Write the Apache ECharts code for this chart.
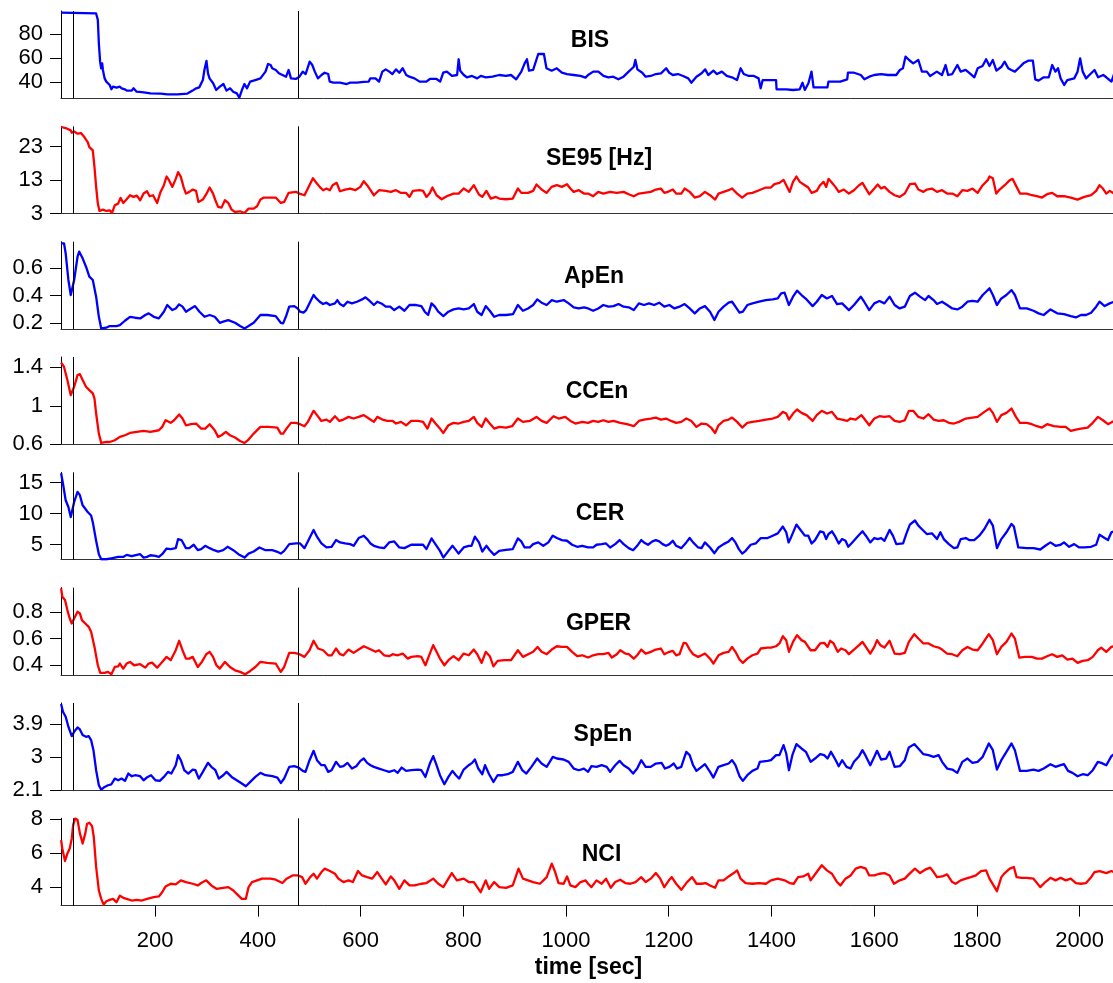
<!DOCTYPE html>
<html>
<head>
<meta charset="utf-8">
<script src="https://cdn.jsdelivr.net/npm/echarts@6/dist/echarts.min.js"></script>
<style>
html,body{margin:0;padding:0;background:#fff;}
#chart{width:1113px;height:983px;}
</style>
</head>
<body>
<div id="chart"></div>
<script>
// ---------- data (time [sec], value) ----------
const panelTitles = ['BIS', 'SE95 [Hz]', 'ApEn', 'CCEn', 'CER', 'GPER', 'SpEn', 'NCI'];
const xTickValues = [200, 400, 600, 800, 1000, 1200, 1400, 1600, 1800, 2000];
const eventTimes = [40, 478];
const xRange = [16.8, 2065];

const yTicksBIS = [40, 60, 80];
const yTicksSE95 = [3, 13, 23];
const yTicksApEn = [0.2, 0.4, 0.6];
const yTicksCCEn = [0.6, 1, 1.4];
const yTicksCER = [5, 10, 15];
const yTicksGPER = [0.4, 0.6, 0.8];
const yTicksSpEn = [2.1, 3, 3.9];
const yTicksNCI = [4, 6, 8];

const yRangeBIS = [26.7, 99.4];
const yRangeSE95 = [3, 29.1];
const yRangeApEn = [0.157, 0.795];
const yRangeCCEn = [0.6, 1.508];
const yRangeCER = [2.54, 16.69];
const yRangeGPER = [0.327, 0.984];
const yRangeSpEn = [2.1, 4.485];
const yRangeNCI = [2.91, 8.06];

const bisData = [[17,98],[85,97.5],[88.5,92],[90.5,72.5],[93,57],[95,51.7],[97,55.8],[98.4,50.3],[101.7,43.3],[105,40.6],[111.6,37.8],[115,34.2],[118,36.4],[125,35.6],[131,36.4],[135,35],[141,34.2],[145,33.1],[154.5,33.1],[158,35],[164,32.2],[178,31.7],[191,30.8],[211,30.6],[224,30],[243.5,30],[263,30.6],[273,33.1],[280,35],[286,35.8],[293,41.9],[296,50.3],[300,57.8],[303,47.5],[306,43.3],[313,39.2],[319,33.6],[326,36.4],[333,38.6],[339,33.1],[346,35],[352,32.2],[359,30.8],[364,27.2],[369,33.6],[374,38.6],[379,35],[385,40.6],[395,41.9],[405,43.3],[415,48.9],[420,55.3],[425,54.4],[428,51.7],[435,50.3],[441,47.5],[448,46.1],[455,44.7],[460,50.3],[464.5,43.3],[474,42.8],[481,44.7],[487.5,48.9],[493,46.9],[501,57.2],[506,54.4],[511,48.9],[517,43.3],[524,46.1],[530,48],[537,46.9],[540,40.6],[547,39.7],[560,39.7],[573,38.6],[580,39.7],[593,39.7],[606,40.3],[616,40.6],[619,43.3],[629,43.3],[636,40.6],[642.5,48.9],[649,50.8],[656,48.9],[662,46.9],[669,50.8],[675.5,48],[682,51.7],[689,46.1],[695,44.7],[705,43.3],[715,40.6],[728,40.6],[735,42.8],[748,42.8],[755,40.6],[761,48],[768,48.9],[778,45.3],[788,46.1],[791,59.2],[794,49.7],[801,46.1],[807,44.2],[817,45.3],[827,43.3],[834,45.3],[844,44.2],[857,44.7],[870,46.1],[883,45.3],[893,46.1],[903,42.5],[913,48.9],[919.5,55.8],[924,59.2],[928,49.7],[936,50.3],[946,63.6],[957,63.6],[962,51.7],[972,49.7],[982,51.7],[992,48],[1002,46.9],[1015,46.1],[1028,45.3],[1038,43.9],[1043,46.1],[1053,48.9],[1063,48.9],[1073,45.3],[1082.5,44.2],[1092,44.7],[1102,42.5],[1112,44.7],[1122,48.9],[1132,53],[1135,58.6],[1139,50.8],[1148.5,48],[1155,44.7],[1165,45.3],[1175,46.9],[1185,47.5],[1195,51.7],[1201,48],[1208,46.1],[1218,46.9],[1228,45.3],[1238,43.3],[1244,39.7],[1254,44.7],[1264,47.5],[1271,50.8],[1277,46.1],[1287,49.7],[1294,46.9],[1303.5,48.9],[1313,45.3],[1323,44.2],[1333,41.9],[1340,51.7],[1346,46.9],[1356,45.3],[1366,45.3],[1375,43.3],[1379,35],[1383,41.9],[1409,41.9],[1410,34.2],[1429,34.2],[1442,33.6],[1455,34.2],[1460.5,39.7],[1465,33.6],[1472,39.2],[1478,48.9],[1482,35.8],[1509,35.8],[1511,40.6],[1534,40.6],[1547.5,42.5],[1549,48],[1561,48],[1574,46.1],[1581,42.5],[1590.5,44.7],[1600,46.1],[1613.5,46.9],[1627,46.1],[1643,46.1],[1650,50.3],[1656,51.7],[1661,61.4],[1668,58.6],[1676,55.8],[1686,58.6],[1693,48.9],[1702.5,48.9],[1709,45.3],[1722,48.9],[1732,46.1],[1739,54.4],[1744,46.1],[1752,46.9],[1762,54.4],[1768.5,48.9],[1778,50.3],[1788,46.9],[1795,44.2],[1801.5,51.7],[1811,53.6],[1818,59.2],[1824.5,53.6],[1831,58.6],[1838,49.7],[1848,53],[1854,57.2],[1861,51.7],[1867,50.3],[1874,48.9],[1884,53],[1890.5,55.8],[1900,58],[1909,58],[1913.6,42.5],[1920,41.4],[1930,44.2],[1940,44.2],[1946.6,54.4],[1953,48.9],[1958,51.7],[1963,43.3],[1970,37.8],[1976,41.9],[1989.5,43.3],[1996,48.9],[2001,60],[2006,48.9],[2012.6,43.3],[2019,46.1],[2029,50.3],[2036,44.2],[2046,46.1],[2052,44.2],[2062,40.6],[2067,46.9]];

const se95Data = [[17,28.9],[25.9,28.6],[35.8,27.9],[37.8,27.2],[42.4,27.6],[49,26.9],[55.6,27.1],[62.2,25.9],[68.8,24.4],[72,22.9],[75.4,23.4],[78.7,21.9],[82,16.9],[85.2,11],[88.5,6],[91.8,3.8],[98.4,4.2],[105,3.8],[111.6,4],[116.2,3.2],[121.5,5.5],[128.1,6],[132.7,7.7],[138,6.2],[144.6,7.3],[151.2,8.5],[157.8,8],[164.4,8.4],[171,7],[177.6,9],[184.2,9.7],[189.4,8.2],[196,8.5],[204,6.2],[210.6,9.5],[217.1,11.5],[222.4,14.1],[227,13],[233.6,11],[240.2,13.4],[244.8,15.4],[250.1,14],[255.4,11],[260,9],[266.6,9.5],[273.2,10.2],[279.8,9.8],[284.4,6.5],[293,7.2],[299.6,8.8],[306.2,10.8],[312.8,9],[317.4,7],[322.7,5],[329.3,4.8],[335.9,7],[342.5,6.2],[349,4.2],[355.6,3.5],[365.5,3.7],[374.1,3.2],[382,4.5],[392,4.5],[398.5,5.2],[405.1,7.2],[411.7,7.8],[434.8,7.8],[444.7,6.2],[451.3,6.5],[459.8,9.2],[474.4,9.5],[481,9],[490.8,8.5],[497.4,10.5],[507.3,13.6],[513.9,12.2],[520.5,11],[527.1,10],[533.7,10.5],[540.3,10],[545.6,11.5],[553.5,12.2],[560,9.7],[570,10.2],[580,10.5],[589.8,10],[599.7,11],[606.3,12.7],[612.8,11.5],[619.4,10],[626,8.5],[636,10],[649,9.8],[659,9.5],[669,10],[678.8,9.2],[688.7,9.2],[695.3,8],[702,9.8],[715,10],[721.7,9.8],[728.3,8],[735,9.2],[740,10.8],[748,8.5],[758,7.3],[767.8,8.2],[781,9],[791,9],[800.8,10.5],[810.7,9.5],[820.6,11.5],[830.5,8.7],[837,8],[845,9.8],[853.6,7.5],[863.5,8],[870,7.5],[883,7.3],[896.4,7.5],[906.3,10.5],[913,9.2],[926,9.2],[936,9.8],[942.6,11.7],[952.5,10.2],[962,9.2],[972,11],[982,11.5],[992,11],[1002,11.8],[1008.5,10.5],[1015,9.5],[1025,10],[1035,9],[1043,9],[1052.9,8.2],[1062.8,9.5],[1072.7,9],[1085.9,9.5],[1099,9.2],[1112.2,9.5],[1122,8.8],[1132,8.2],[1142,9],[1151.8,9.2],[1165,9.5],[1175,10.2],[1184.8,10.5],[1191.4,9.2],[1198,9.5],[1208,10.2],[1214.5,9],[1224.4,9],[1231,10.5],[1240.8,9.5],[1250.7,7.8],[1260.6,8.2],[1270.5,9.5],[1280.4,8.5],[1290.3,7.2],[1297,9],[1306.8,9.5],[1316.7,10],[1323.3,10.5],[1333.2,9],[1343,7.8],[1353,9],[1363,9.2],[1376,10],[1389,10.8],[1399,10.8],[1405.7,11.8],[1415.6,12.2],[1423.5,13.1],[1428.8,11.5],[1435.4,9.5],[1442,12.5],[1448.6,14.1],[1455.2,12.5],[1465,11.5],[1471.7,10.8],[1478.3,9.2],[1488.2,9.8],[1494.8,11.5],[1501.4,12.5],[1506.6,11],[1511.2,13.4],[1517.8,12.2],[1524.4,11],[1531,9.5],[1541,10.2],[1550.8,9],[1560.7,10],[1570.6,11.5],[1577.2,12.2],[1583.8,10.5],[1590.4,8.8],[1600.3,10.5],[1606.9,11.7],[1613.5,10.5],[1620,11],[1630,9.5],[1639.8,8.5],[1649.7,8],[1659.6,9],[1669.5,11.8],[1679.4,12],[1686,10.2],[1695.9,9.5],[1702.5,10.2],[1712.4,10.5],[1722.3,9.5],[1732.2,10],[1742,9],[1752,9],[1762,8.2],[1771.7,10],[1781.6,9.8],[1791.5,10.5],[1801.4,9.2],[1811.3,11.5],[1821.2,13],[1824.5,14.1],[1831,13.6],[1837.7,9],[1844.3,10.2],[1854.2,11.5],[1864,13],[1869.3,13.4],[1877.3,11],[1883.9,9],[1897,9],[1907,8.5],[1916.8,8.2],[1926.7,7.8],[1936.6,8.8],[1946.5,9.2],[1956.4,8.2],[1969.6,8.2],[1982.8,7.8],[1996,7.2],[2009.2,8],[2022.4,8.5],[2032.2,9.8],[2038.8,11.5],[2045.4,10.5],[2052,9],[2058.6,9.8],[2067,9]];

const apenData = [[17,0.783],[22.6,0.783],[25.9,0.71],[31.2,0.515],[35.8,0.405],[37.8,0.398],[42.4,0.515],[49,0.685],[52.3,0.722],[58.9,0.673],[65.5,0.612],[72,0.539],[78.7,0.515],[85.2,0.393],[90.5,0.246],[95.1,0.161],[105,0.166],[111.6,0.178],[124.8,0.178],[131.4,0.185],[141.3,0.217],[151.2,0.246],[161,0.239],[171,0.234],[180.9,0.259],[187.5,0.271],[197.4,0.246],[207.3,0.234],[217.1,0.283],[223.7,0.332],[233.6,0.295],[240.2,0.307],[246.8,0.337],[253.4,0.32],[260,0.283],[269.9,0.307],[277.8,0.324],[286.4,0.283],[296.3,0.246],[306.2,0.259],[316.1,0.246],[326,0.202],[332.6,0.21],[342.5,0.222],[355.6,0.202],[365.5,0.178],[374.1,0.161],[382,0.178],[392,0.202],[405.1,0.259],[418.3,0.259],[434.8,0.251],[444.7,0.202],[449.3,0.198],[454.6,0.246],[461.1,0.32],[471,0.324],[477.6,0.307],[482.3,0.283],[488.9,0.276],[494.1,0.295],[502,0.356],[508.6,0.405],[513.9,0.38],[520.5,0.356],[527,0.339],[533.7,0.349],[540.3,0.332],[550.2,0.344],[554.8,0.368],[560,0.339],[566.7,0.324],[574.6,0.356],[583.2,0.344],[593.1,0.356],[603,0.373],[609.6,0.388],[616.1,0.368],[626,0.332],[632.6,0.356],[642.5,0.339],[649.1,0.32],[657.7,0.32],[665.6,0.295],[675.5,0.32],[685.4,0.29],[695.3,0.332],[708.5,0.332],[718.4,0.324],[725,0.283],[731.6,0.259],[738.2,0.344],[744.7,0.32],[751.3,0.283],[761.2,0.251],[771.1,0.283],[781,0.3],[791,0.307],[800.8,0.3],[810.7,0.307],[820.6,0.339],[827.2,0.283],[835.7,0.259],[843.7,0.324],[851.6,0.29],[860.1,0.246],[870,0.259],[883.2,0.259],[897,0.266],[906.3,0.332],[916.2,0.29],[926,0.307],[936,0.332],[944,0.373],[952.5,0.349],[962.4,0.332],[972.3,0.368],[982,0.356],[995.4,0.368],[1005.3,0.344],[1015,0.315],[1025,0.307],[1035,0.315],[1043,0.307],[1052.9,0.29],[1062.8,0.307],[1072.7,0.332],[1082.6,0.32],[1092.5,0.324],[1102.3,0.339],[1112.2,0.32],[1122.1,0.315],[1132,0.295],[1141.9,0.344],[1151.8,0.332],[1161.7,0.344],[1171.6,0.332],[1181.5,0.349],[1191.4,0.32],[1201.3,0.332],[1211.2,0.307],[1221,0.32],[1231,0.339],[1240.8,0.307],[1250.7,0.271],[1260.6,0.307],[1270.5,0.324],[1280.4,0.283],[1289,0.222],[1297,0.283],[1306.8,0.32],[1316.7,0.349],[1323.3,0.356],[1329.9,0.32],[1337.8,0.276],[1344.4,0.283],[1353,0.332],[1363,0.344],[1376,0.356],[1389,0.368],[1402.4,0.373],[1412.3,0.38],[1418.9,0.417],[1425.5,0.422],[1434,0.332],[1442,0.393],[1449.9,0.437],[1458.5,0.405],[1468.4,0.373],[1480.2,0.324],[1488.2,0.356],[1498,0.405],[1508,0.38],[1517.8,0.398],[1527.7,0.339],[1537.6,0.344],[1550.8,0.295],[1560.7,0.332],[1573.9,0.393],[1580.5,0.356],[1590.4,0.295],[1600.3,0.344],[1610.2,0.361],[1620,0.344],[1630,0.393],[1639.8,0.332],[1649.7,0.307],[1659.6,0.32],[1669.5,0.398],[1679.4,0.422],[1689.3,0.393],[1699.2,0.368],[1705.8,0.398],[1715.7,0.368],[1722.3,0.339],[1732.2,0.356],[1742,0.332],[1752,0.307],[1761.9,0.3],[1771.7,0.32],[1781.6,0.356],[1791.5,0.363],[1801.4,0.356],[1811.3,0.405],[1817.9,0.429],[1824.5,0.454],[1831.1,0.405],[1839,0.332],[1847.6,0.38],[1857.5,0.405],[1867.4,0.441],[1874,0.405],[1883.9,0.307],[1897,0.307],[1910.2,0.29],[1920.1,0.271],[1930,0.259],[1943.2,0.3],[1956.4,0.271],[1969.6,0.266],[1982.8,0.251],[1992.7,0.241],[2002.6,0.259],[2012.5,0.259],[2022.4,0.276],[2032.2,0.32],[2038.8,0.356],[2048.7,0.324],[2058.6,0.344],[2067,0.356]];

const ccenData = [[17,1.449],[22.6,1.407],[29.2,1.268],[35.8,1.111],[37.8,1.101],[42.4,1.198],[49,1.32],[53.6,1.33],[58.9,1.268],[65.5,1.198],[72,1.163],[78.7,1.129],[82,1.076],[85.2,0.92],[90.5,0.711],[95.1,0.614],[105,0.624],[111.6,0.624],[121.5,0.642],[131.4,0.677],[141.3,0.694],[151.2,0.718],[164.4,0.729],[177.6,0.739],[190.8,0.729],[207.3,0.746],[213.8,0.781],[220.4,0.85],[230.3,0.823],[237,0.85],[246.8,0.91],[253.4,0.868],[260,0.798],[269.9,0.809],[279.8,0.816],[289.7,0.763],[297.6,0.763],[306.2,0.809],[316.1,0.746],[322.7,0.677],[329.3,0.694],[337.8,0.729],[345.7,0.694],[355.6,0.67],[365.5,0.635],[374.1,0.614],[382,0.649],[392,0.711],[405.1,0.781],[421.6,0.781],[438,0.774],[444.7,0.711],[449.3,0.711],[455.9,0.763],[464.5,0.823],[474.4,0.823],[482.3,0.809],[490.8,0.788],[497.4,0.833],[508.6,0.948],[515.2,0.903],[523.8,0.843],[533.7,0.857],[540.3,0.833],[550.2,0.892],[558.8,0.843],[566.7,0.857],[576.6,0.885],[586.5,0.868],[596.4,0.885],[606.3,0.903],[616.1,0.868],[626,0.833],[632.6,0.885],[642.5,0.857],[652.4,0.843],[662.3,0.843],[669,0.816],[678.8,0.833],[688.7,0.798],[698.6,0.843],[711.8,0.843],[721.7,0.833],[730.3,0.763],[738.2,0.868],[746,0.816],[754.6,0.763],[761.2,0.718],[771.1,0.798],[781,0.823],[790.9,0.816],[800.8,0.833],[810.7,0.843],[820.6,0.885],[827.2,0.823],[835.8,0.781],[843.7,0.868],[851.6,0.816],[860.2,0.763],[870,0.781],[883.2,0.774],[895.1,0.788],[906.3,0.868],[916.2,0.833],[929.4,0.843],[942.6,0.885],[952.5,0.843],[962.4,0.823],[975.6,0.892],[985.5,0.868],[998.6,0.885],[1008.5,0.843],[1018.4,0.816],[1031.6,0.833],[1043,0.823],[1052.9,0.843],[1062.8,0.833],[1072.7,0.85],[1082.6,0.833],[1092.5,0.843],[1105.6,0.823],[1118.8,0.809],[1132,0.788],[1141.9,0.843],[1151.8,0.857],[1165,0.868],[1174.9,0.878],[1184.8,0.857],[1194.7,0.868],[1204.6,0.843],[1214.5,0.823],[1224.4,0.833],[1234.3,0.868],[1244.1,0.843],[1254,0.781],[1263.9,0.816],[1273.8,0.809],[1282.4,0.774],[1290.3,0.718],[1296.9,0.798],[1306.8,0.843],[1316.7,0.857],[1323.3,0.878],[1333.2,0.833],[1343,0.774],[1353,0.823],[1362.9,0.833],[1376,0.843],[1389.2,0.857],[1402.4,0.868],[1412.3,0.885],[1422.2,0.937],[1428.8,0.92],[1434,0.857],[1442,0.92],[1449.9,0.962],[1458.5,0.927],[1468.4,0.903],[1480.2,0.843],[1488.2,0.903],[1498,0.948],[1508,0.92],[1517.8,0.937],[1527.7,0.868],[1537.6,0.857],[1547.5,0.843],[1554.1,0.868],[1564,0.857],[1575.2,0.903],[1580.5,0.868],[1590.4,0.798],[1600.3,0.868],[1610.2,0.892],[1620,0.885],[1630,0.892],[1639.8,0.843],[1649.7,0.833],[1659.6,0.85],[1667.5,0.948],[1676.1,0.948],[1686,0.885],[1695.9,0.868],[1705.8,0.913],[1715.7,0.857],[1725.6,0.843],[1735.5,0.85],[1745.4,0.823],[1755.3,0.816],[1765.2,0.833],[1778.3,0.868],[1791.5,0.878],[1801.4,0.885],[1814.6,0.937],[1824.5,0.972],[1831.1,0.927],[1839,0.833],[1847.6,0.903],[1857.5,0.927],[1867.4,0.972],[1876,0.885],[1883.9,0.823],[1897,0.823],[1907,0.809],[1916.8,0.788],[1926.7,0.774],[1936.6,0.809],[1949.8,0.788],[1963,0.781],[1972.9,0.781],[1982.8,0.739],[1992.7,0.753],[2002.6,0.763],[2015.7,0.774],[2025.6,0.823],[2035.5,0.885],[2045.4,0.85],[2055.3,0.809],[2067,0.843]];

const cerData = [[17,16.53],[20.6,14.89],[25.9,12.16],[31.2,11.07],[35.8,9.43],[37.8,9.7],[42.4,11.88],[49,13.52],[53.6,12.98],[58.9,11.34],[64.1,10.79],[68.8,10.25],[75.4,9.7],[78.7,8.61],[85.2,5.6],[90.5,3.42],[95.1,2.6],[105,2.6],[114.9,2.76],[121.5,2.87],[128.1,2.98],[138,2.98],[144.6,3.31],[154.5,3.09],[164.4,3.31],[171,3.42],[177.6,2.87],[184.2,2.98],[190.8,3.25],[200.7,3.14],[207.3,2.98],[213.8,3.42],[222.4,4.34],[230.3,4.24],[240.2,4.4],[244.8,5.87],[251.4,5.71],[260,4.4],[266.6,4.4],[275.2,4.95],[283.1,4.07],[289.7,4.24],[297.6,4.78],[306.2,4.4],[314.8,4.07],[322.7,3.85],[332.6,4.07],[341.1,4.62],[352.3,4.07],[362.2,3.42],[374.1,2.87],[382,3.52],[392,3.85],[403.1,4.51],[415,4.07],[428.2,4.07],[438.1,3.8],[444.7,3.52],[451.3,3.96],[461.2,5.05],[474.4,5.16],[482.3,5.16],[490.8,4.4],[500.7,6.04],[508.6,7.35],[515.2,6.26],[523.8,5.16],[533.7,4.51],[543.6,4.62],[552.2,5.71],[560.1,5.33],[570,5.16],[579.9,5.05],[586.5,4.78],[596.4,6.04],[606.3,6.42],[612.8,5.87],[619.4,5.16],[626,4.78],[636,4.51],[645.8,4.4],[655.7,5.33],[665.6,5.49],[675.5,4.51],[685.4,4.4],[698.6,4.95],[711.8,4.95],[721.7,4.95],[728.3,4.24],[738.2,5.98],[748,4.78],[754.6,3.96],[761.2,2.87],[771.1,3.96],[779,4.78],[784.3,4.24],[790.9,3.52],[800.8,4.51],[810.7,4.78],[816,4.78],[822.6,6.26],[830.5,5.33],[837.1,3.85],[845,4.78],[851.6,4.07],[860.2,3.31],[870,3.96],[883.2,4.13],[896.4,4.24],[906.3,5.98],[912.9,5.49],[919.5,4.51],[929.4,4.51],[936,5.05],[945.9,5.33],[955.8,4.78],[965.7,5.33],[974.2,6.42],[982.2,6.04],[992,5.71],[1002,5.6],[1011.9,4.95],[1021.8,4.62],[1031.6,4.78],[1043,4.51],[1052.9,4.51],[1059.5,4.95],[1069.4,5.05],[1077.9,5.16],[1085.9,4.51],[1095.8,5.05],[1104.3,5.71],[1112.2,5.05],[1122.1,4.4],[1130.7,4.07],[1138.6,4.78],[1146.5,5.71],[1151.8,5.33],[1159.7,4.95],[1168.3,5.49],[1174.9,5.71],[1181.5,5.49],[1188.1,5.05],[1194.7,4.78],[1201.3,5.05],[1207.9,5.6],[1214.5,4.78],[1224.4,4.4],[1234.2,5.33],[1240.8,6.04],[1247.4,5.33],[1257.3,4.51],[1263.9,4.4],[1270.5,5.33],[1280.4,4.51],[1289,3.58],[1296.9,4.51],[1306.8,5.05],[1316.7,5.49],[1323.3,6.04],[1329.9,5.33],[1336.5,4.24],[1343.1,3.52],[1349.7,3.96],[1359.6,4.95],[1369.4,5.16],[1379.3,6.04],[1392.5,6.04],[1402.4,6.42],[1412.3,6.8],[1422.2,7.9],[1428.8,6.97],[1433.4,5.33],[1438.7,6.26],[1448.6,8.22],[1455.2,7.51],[1465,6.42],[1471.7,6.42],[1478.3,5.16],[1484.9,5.71],[1494.8,7.13],[1501.4,6.97],[1506.6,5.87],[1511.2,6.69],[1517.8,7.13],[1524.4,6.26],[1531,5.16],[1537.6,5.87],[1544.2,5.6],[1549.5,4.62],[1557.4,5.33],[1567.3,6.26],[1577.2,7.13],[1583.8,6.42],[1592.4,5.33],[1600.3,6.04],[1606.9,5.87],[1613.5,6.04],[1620.1,5.6],[1630,7.35],[1636.5,6.42],[1643.1,5.05],[1656.3,5.16],[1662.9,6.8],[1669.5,8.22],[1679.4,8.88],[1686,8.06],[1692.6,7.51],[1702.5,6.69],[1712.4,6.8],[1722.3,5.87],[1728.9,6.97],[1735.5,5.87],[1745.4,5.05],[1755.3,4.4],[1761.9,4.51],[1768.5,5.87],[1778.4,6.04],[1785,5.71],[1794.8,5.71],[1804.7,6.42],[1814.6,7.51],[1824.5,8.99],[1831.1,8.06],[1839,4.4],[1847.6,5.87],[1857.5,6.97],[1867.4,8.33],[1872,7.9],[1880.6,4.51],[1897.1,4.4],[1910.2,4.4],[1923.4,4.18],[1933.3,4.78],[1943.2,5.33],[1953.1,4.78],[1963,4.95],[1969.6,5.33],[1979.5,4.62],[1989.4,5.05],[1999.3,4.51],[2009.2,4.51],[2022.4,4.62],[2032.2,4.95],[2038.8,6.58],[2048.7,6.04],[2055.3,5.71],[2061.9,6.97],[2067,7.13]];

const gperData = [[17,0.979],[19.3,0.916],[24.6,0.891],[29.2,0.815],[33.8,0.752],[37.8,0.714],[42.4,0.752],[49,0.803],[53.6,0.79],[57.5,0.74],[64.1,0.714],[70.7,0.689],[75.4,0.652],[82,0.538],[88.5,0.4],[93.2,0.342],[101.7,0.342],[108.3,0.35],[114.9,0.332],[121.5,0.387],[128.1,0.392],[131.4,0.413],[138,0.375],[144.6,0.413],[151.2,0.425],[159.1,0.4],[171,0.408],[180.9,0.382],[187.5,0.413],[194.1,0.42],[204,0.382],[213.8,0.425],[222.4,0.463],[230.3,0.438],[240.2,0.513],[246.8,0.584],[253.4,0.513],[260,0.45],[266.6,0.45],[273.2,0.463],[283.1,0.387],[291,0.425],[299.6,0.483],[306.2,0.501],[312.8,0.463],[319.4,0.4],[326,0.375],[335.9,0.425],[345.7,0.387],[355.6,0.362],[365.5,0.35],[375.4,0.332],[385.3,0.357],[395.2,0.387],[405.1,0.425],[418.3,0.418],[434.8,0.413],[444.7,0.35],[451.3,0.387],[461.2,0.493],[471,0.493],[481,0.483],[490.8,0.463],[500.7,0.513],[508.6,0.584],[517.2,0.526],[527.1,0.513],[537,0.475],[543.6,0.475],[552.2,0.526],[560.1,0.483],[566.7,0.475],[576.6,0.518],[586.5,0.493],[596.4,0.518],[606.3,0.543],[616.1,0.526],[629.3,0.501],[635.9,0.513],[645.8,0.475],[655.7,0.468],[662.3,0.483],[672.2,0.475],[682.1,0.488],[692,0.45],[698.6,0.463],[711.8,0.468],[718.4,0.463],[726.3,0.4],[734.9,0.488],[741.5,0.551],[748,0.501],[754.6,0.45],[763.2,0.4],[771.1,0.438],[781,0.468],[790.9,0.438],[800.8,0.488],[810.7,0.475],[820.6,0.518],[827.2,0.483],[835.8,0.418],[843.7,0.501],[851.6,0.468],[858.8,0.392],[866.8,0.433],[880,0.438],[893.1,0.438],[906.3,0.513],[916.2,0.463],[929.4,0.488],[936,0.501],[944.6,0.538],[952.5,0.501],[962.4,0.483],[972.3,0.518],[982.2,0.543],[992.1,0.538],[1002,0.538],[1011.9,0.501],[1021.7,0.468],[1031.6,0.475],[1043,0.458],[1052.9,0.475],[1062.8,0.483],[1072.7,0.483],[1082.6,0.493],[1089.2,0.458],[1099,0.483],[1105.6,0.513],[1115.5,0.488],[1122.1,0.483],[1132,0.45],[1138.6,0.475],[1146.5,0.518],[1155.1,0.488],[1165,0.501],[1174.9,0.518],[1184.8,0.526],[1191.4,0.483],[1201.3,0.501],[1207.9,0.508],[1214.5,0.475],[1221.1,0.483],[1229,0.569],[1234.2,0.564],[1240.8,0.518],[1247.4,0.483],[1257.3,0.463],[1263.9,0.475],[1270.5,0.488],[1280.4,0.45],[1287,0.413],[1296.9,0.475],[1306.8,0.493],[1316.7,0.501],[1323.3,0.538],[1329.9,0.501],[1337.8,0.443],[1344.4,0.418],[1353,0.45],[1362.9,0.475],[1372.8,0.488],[1379.3,0.526],[1392.5,0.533],[1399.1,0.533],[1409,0.543],[1415.6,0.564],[1422.2,0.619],[1428.8,0.589],[1434.1,0.501],[1442,0.576],[1449.9,0.626],[1458.5,0.589],[1465.1,0.576],[1476.3,0.513],[1484.9,0.513],[1494.8,0.564],[1502.7,0.569],[1509.3,0.538],[1514.5,0.584],[1521.1,0.564],[1529,0.501],[1535.6,0.526],[1544.2,0.513],[1550.8,0.483],[1560.7,0.518],[1570.6,0.551],[1577.2,0.576],[1583.8,0.538],[1592.4,0.488],[1600.3,0.538],[1605.6,0.589],[1612.1,0.551],[1620,0.533],[1630,0.584],[1639.8,0.488],[1649.7,0.483],[1659.6,0.493],[1667.5,0.576],[1678.1,0.634],[1686,0.601],[1695.9,0.564],[1705.8,0.564],[1715.7,0.543],[1725.6,0.533],[1732.2,0.518],[1742,0.488],[1752,0.483],[1761.9,0.468],[1771.7,0.513],[1781.6,0.538],[1791.5,0.518],[1801.4,0.513],[1811.3,0.564],[1823.2,0.634],[1831.1,0.589],[1839,0.483],[1847.6,0.538],[1857.5,0.576],[1867.4,0.639],[1874,0.601],[1882.5,0.458],[1893.7,0.463],[1906.9,0.463],[1916.8,0.45],[1926.7,0.45],[1936.6,0.468],[1946.5,0.483],[1956.4,0.463],[1966.3,0.475],[1976.2,0.443],[1986.1,0.45],[1996,0.418],[2005.9,0.433],[2015.8,0.438],[2025.6,0.463],[2035.5,0.513],[2042.1,0.533],[2052,0.501],[2061.9,0.538],[2067,0.543]];

const spenData = [[17,4.457],[20.6,4.247],[25.9,4.11],[31.2,3.836],[37.8,3.58],[42.4,3.699],[49,3.818],[53.6,3.763],[58.9,3.608],[65.5,3.562],[70.7,3.58],[75.4,3.471],[80,3.196],[85.2,2.648],[90.5,2.237],[95.1,2.118],[101.7,2.191],[108.3,2.237],[114.9,2.264],[121.5,2.42],[128.1,2.374],[134.7,2.42],[141.3,2.356],[147.9,2.557],[154.5,2.484],[161.1,2.511],[171,2.484],[177.6,2.374],[185.5,2.465],[192.1,2.511],[200.7,2.374],[209.2,2.356],[217.1,2.465],[225.1,2.603],[231.6,2.557],[240.2,2.785],[244.8,3.059],[250.1,2.922],[256.7,2.648],[264.6,2.557],[273.2,2.666],[278.5,2.648],[285.1,2.42],[293,2.603],[302.9,2.849],[309.5,2.74],[317.4,2.648],[324,2.42],[332.6,2.511],[339.2,2.603],[349,2.465],[359,2.374],[368.8,2.283],[376.7,2.21],[385.3,2.328],[395.2,2.465],[405.1,2.575],[415,2.511],[428.2,2.484],[438.1,2.447],[444.7,2.301],[451.3,2.42],[461.2,2.74],[471,2.758],[479.6,2.721],[487.5,2.63],[492.8,2.603],[500.7,2.922],[508.6,3.178],[515.2,2.922],[523.8,2.785],[530.4,2.785],[537,2.603],[543.6,2.648],[552.2,2.877],[560.1,2.74],[566.7,2.758],[574.6,2.849],[583.2,2.694],[591.7,2.758],[599.7,2.904],[606.3,2.968],[612.8,2.849],[619.4,2.785],[626,2.74],[635.9,2.694],[645.8,2.648],[655.7,2.603],[665.6,2.648],[672.2,2.575],[680.1,2.721],[688.7,2.63],[698.6,2.648],[711.8,2.666],[718.4,2.648],[726.3,2.465],[734.9,2.831],[741.5,3.032],[748,2.785],[754.6,2.511],[763.2,2.264],[771.1,2.465],[779,2.63],[785.6,2.511],[792.2,2.42],[800.8,2.666],[810.7,2.785],[817.3,2.849],[822.6,2.941],[829.2,2.694],[837.1,2.539],[842.4,2.785],[850.3,2.539],[858.8,2.328],[866.8,2.511],[876.7,2.511],[886.5,2.539],[896.4,2.603],[906.3,2.877],[914.9,2.648],[922.8,2.557],[932.7,2.74],[943.9,2.968],[952.5,2.831],[962.4,2.74],[974.3,3.014],[982.2,2.968],[995.3,2.941],[1005.2,2.877],[1015.1,2.694],[1025,2.648],[1034.9,2.694],[1043,2.603],[1049.6,2.758],[1059.5,2.74],[1069.4,2.785],[1079.3,2.74],[1085.9,2.603],[1095.8,2.785],[1104.3,2.904],[1112.2,2.785],[1122.1,2.694],[1130.7,2.557],[1138.6,2.694],[1146.5,2.922],[1155.1,2.74],[1165,2.74],[1174.9,2.831],[1186.1,2.849],[1192.7,2.694],[1201.3,2.74],[1209.8,2.831],[1216.4,2.694],[1224.4,2.74],[1234.2,3.151],[1240.8,3.059],[1247.4,2.785],[1254,2.63],[1263.9,2.74],[1270.5,2.813],[1280.4,2.603],[1287,2.447],[1296.9,2.74],[1306.8,2.785],[1316.7,2.831],[1323.3,2.922],[1329.9,2.785],[1337.8,2.484],[1344.4,2.356],[1353,2.511],[1362.9,2.63],[1372.8,2.694],[1377.4,2.877],[1392.5,2.904],[1399.1,2.922],[1409,3.059],[1415.6,3.059],[1423.5,3.333],[1428.8,3.105],[1434.1,2.648],[1440.7,3.059],[1448.6,3.361],[1458.5,3.242],[1467.1,3.151],[1476.3,2.877],[1484.9,2.968],[1494.8,3.087],[1502.7,3.059],[1509.3,2.968],[1515.9,3.151],[1524.4,2.941],[1531,2.758],[1537.6,2.922],[1546.2,2.74],[1554.1,2.694],[1560.7,2.877],[1570.6,3.032],[1577.2,3.196],[1583.8,3.032],[1592.4,2.785],[1600.3,3.014],[1605.6,3.178],[1613.5,2.941],[1623.4,2.968],[1630,3.151],[1639.8,2.74],[1649.7,2.758],[1659.6,2.922],[1667.5,3.27],[1678.1,3.361],[1686,3.242],[1695.9,3.087],[1705.8,3.059],[1715.7,3.014],[1725.6,3.059],[1732.2,2.877],[1742,2.694],[1752,2.666],[1761.9,2.575],[1771.7,2.877],[1781.6,2.968],[1791.5,2.849],[1801.4,2.877],[1811.3,3.014],[1823.2,3.379],[1831.1,3.196],[1839,2.666],[1847.6,2.922],[1857.5,3.151],[1867.4,3.379],[1874,3.196],[1883.9,2.63],[1897,2.63],[1910.2,2.666],[1920.1,2.63],[1930,2.694],[1943.2,2.813],[1953.1,2.74],[1963,2.785],[1969.6,2.813],[1977.5,2.63],[1986.1,2.575],[1996,2.484],[2005.9,2.539],[2015.8,2.511],[2025.6,2.648],[2035.5,2.877],[2042.1,2.849],[2052,2.785],[2061.9,3.032],[2067,3.087]];

const nciData = [[17,6.77],[19.3,6.28],[24.6,5.54],[29.2,5.98],[33.8,6.28],[37.8,6.87],[40.4,7.66],[44.4,8.06],[49,7.96],[53.6,7.17],[58.9,6.57],[64.1,7.17],[67.4,7.72],[72,7.8],[77.3,7.6],[80.6,6.97],[85.2,5.19],[90.5,3.8],[95.1,3.31],[99.8,2.97],[105,3.17],[111.6,3.25],[118.2,3.31],[124.8,3.11],[131.4,3.5],[138,3.37],[144.6,3.31],[154.5,3.21],[164.4,3.25],[174.3,3.21],[184.2,3.31],[197.4,3.41],[207.3,3.45],[213.8,3.7],[220.4,4.04],[230.3,4.2],[240.2,4.16],[250.1,4.4],[260,4.3],[273.2,4.2],[283.1,4.1],[289.7,4.24],[299.6,4.4],[309.5,4.1],[319.4,3.9],[332.6,3.96],[342.5,4],[352.3,3.8],[358.9,3.6],[368.8,3.31],[376.7,3.31],[382,4],[388.6,4.3],[398.5,4.4],[408.4,4.5],[424.9,4.5],[434.8,4.44],[448,4.24],[455.9,4.5],[467.7,4.69],[477.6,4.69],[486.2,4.59],[492.8,4.2],[502,4.59],[508.6,4.79],[515.2,4.5],[523.8,4.89],[530.4,5.09],[540.3,4.95],[550.2,4.79],[556.8,4.5],[566.7,4.3],[576.6,4.4],[585.1,4.3],[595,4.95],[603,4.69],[612.8,4.59],[622.7,4.5],[632.6,4.89],[639.2,4.59],[649.1,4.16],[659,4.63],[665.6,4.4],[675.5,3.9],[685.4,4.4],[695.3,4.1],[705.2,4.1],[718.4,4.2],[728.3,4.24],[741.5,4.5],[751.3,4.2],[761.2,4],[771.1,4.5],[777.7,4.83],[787.6,4.4],[800.8,4.5],[810.7,4.3],[820.6,4.3],[833.8,3.7],[843.7,4.4],[850.3,3.9],[860.2,4.3],[870.1,4],[883.2,3.96],[896.4,4.1],[907.6,5.09],[916.2,4.5],[926.1,4.4],[936,4.3],[949.2,4.2],[962.4,4.59],[972.3,5.39],[978.9,4.89],[985.5,4.24],[995.4,4.2],[1002,4.63],[1008.5,4.1],[1018.4,4],[1028.3,4.3],[1038.2,4.4],[1043,4.2],[1049.6,4],[1059.5,4.4],[1069.4,4.2],[1077.9,4.5],[1087.2,3.96],[1095.8,4.3],[1105.6,4.44],[1115.5,4.24],[1125.4,4.2],[1135.3,4.3],[1146.5,4.59],[1155.1,4.3],[1165,4.5],[1174.9,4.83],[1183.5,4.5],[1191.4,4],[1201.3,4.44],[1205.9,4.59],[1214.5,4.2],[1224.4,3.84],[1234.2,4.24],[1245.5,4.59],[1254.1,4.2],[1263.9,4.2],[1271.8,4.24],[1280.4,4.1],[1290.3,3.96],[1296.9,4.4],[1306.8,4.4],[1316.7,4.63],[1326.6,4.83],[1333.2,4.99],[1339.8,4.5],[1349.7,4.24],[1362.9,4.2],[1376,4.24],[1389.2,4.2],[1399.1,4.4],[1412.3,4.5],[1425.5,4.4],[1435.4,4.24],[1443.3,4.2],[1451.9,4.59],[1461.8,4.63],[1471.7,4.79],[1476.3,4.4],[1488.2,4.89],[1498,5.29],[1508,4.99],[1517.8,4.79],[1527.7,4.3],[1534.3,4.1],[1544.2,4.5],[1554.1,4.69],[1564,5.09],[1573.9,5.19],[1583.8,5.09],[1590.4,4.69],[1600.3,4.69],[1610.2,4.79],[1620,4.83],[1630,4.69],[1638.5,4.2],[1649.7,4.4],[1659.6,4.5],[1667.5,4.75],[1679.4,5.09],[1689.3,4.83],[1699.2,5.03],[1709.1,5.15],[1715.7,4.89],[1722.3,4.59],[1732.2,4.63],[1742,4.75],[1752,4.3],[1758.6,4.2],[1768.5,4.4],[1778.3,4.5],[1788.2,4.59],[1798.1,4.69],[1808,4.95],[1817.9,4.99],[1824.5,4.5],[1832.4,4.1],[1839,3.76],[1847.6,4.59],[1854.2,4.83],[1864.1,5.09],[1872,5.19],[1877.3,4.59],[1887.2,4.55],[1897.1,4.55],[1910.2,4.5],[1923.4,4],[1933.3,4.3],[1943.2,4.55],[1953.1,4.4],[1963,4.55],[1972.9,4.4],[1982.8,4.5],[1992.7,4.24],[2002.6,4.2],[2012.5,4.24],[2022.4,4.59],[2029,4.89],[2038.9,4.95],[2052,4.83],[2061.9,4.95],[2067,4.89]];

// ---------- chart ----------
const seriesData = [bisData, se95Data, apenData, ccenData, cerData, gperData, spenData, nciData];
const yTicks = [yTicksBIS, yTicksSE95, yTicksApEn, yTicksCCEn, yTicksCER, yTicksGPER, yTicksSpEn, yTicksNCI];
const yRanges = [yRangeBIS, yRangeSE95, yRangeApEn, yRangeCCEn, yRangeCER, yRangeGPER, yRangeSpEn, yRangeNCI];
const colors = ['#0000ff', '#ff0000', '#0000ff', '#ff0000', '#0000ff', '#ff0000', '#0000ff', '#ff0000'];

const FONT = '"Liberation Sans", Arial, Helvetica, sans-serif';
const gridLeft = 61, gridTop0 = 11, gridStep = 115.33, gridH = 87.3;
const titlePos = [[590, 40.5], [599, 158.4], [594, 276.4], [597, 391.7], [600, 513.4], [598.5, 623.3], [603, 734.8], [601.5, 854.3]];
const plain = v => String(v);

const grids = [], xAxes = [], yAxes = [], series = [], graphics = [];
for (let i = 0; i < 8; i++) {
  const last = i === 7;
  grids.push({ left: gridLeft, right: 0, top: gridTop0 + i * gridStep, height: gridH, containLabel: false });
  xAxes.push({
    type: 'value', gridIndex: i, min: xRange[0], max: xRange[1],
    axisLine: { show: true, onZero: false, lineStyle: { color: '#333', width: 1 } },
    splitLine: { show: false },
    axisTick: last ? { show: true, length: 11, inside: false, customValues: xTickValues, lineStyle: { color: '#000' } } : { show: false },
    axisLabel: last ? { show: true, customValues: xTickValues, formatter: plain, margin: 24, fontSize: 22, color: '#000', fontFamily: FONT, showMinLabel: true, showMaxLabel: true } : { show: false }
  });
  yAxes.push({
    type: 'value', gridIndex: i, min: yRanges[i][0], max: yRanges[i][1],
    axisLine: { show: true, lineStyle: { color: '#000', width: 1 } },
    splitLine: { show: false },
    axisTick: { show: true, length: 11, inside: false, customValues: yTicks[i], lineStyle: { color: '#000' } },
    axisLabel: { show: true, customValues: yTicks[i], formatter: plain, margin: 18, fontSize: 22, color: '#000', fontFamily: FONT, showMinLabel: true, showMaxLabel: true }
  });
  series.push({
    type: 'line', xAxisIndex: i, yAxisIndex: i, data: seriesData[i],
    showSymbol: false, symbol: 'none', clip: true, animation: false,
    lineStyle: { color: colors[i], width: 2.3, join: 'round' }, itemStyle: { color: colors[i] },
    markLine: {
      silent: true, symbol: ['none', 'none'], animation: false,
      label: { show: false },
      lineStyle: { color: '#000', width: 1, type: 'solid' },
      data: eventTimes.map(t => ({ xAxis: t }))
    }
  });
  graphics.push({
    type: 'text', x: titlePos[i][0], y: titlePos[i][1],
    style: { text: panelTitles[i], fill: '#000', font: 'bold 23px ' + FONT, textAlign: 'center', textVerticalAlign: 'middle' }
  });
}
graphics.push({
  type: 'text', x: 588.5, y: 968,
  style: { text: 'time [sec]', fill: '#000', font: 'bold 23px ' + FONT, textAlign: 'center', textVerticalAlign: 'middle' }
});

const chart = echarts.init(document.getElementById('chart'), null, { renderer: 'canvas' });
chart.setOption({
  animation: false,
  backgroundColor: '#fff',
  grid: grids, xAxis: xAxes, yAxis: yAxes, series: series, graphic: graphics
});
</script>
</body>
</html>
